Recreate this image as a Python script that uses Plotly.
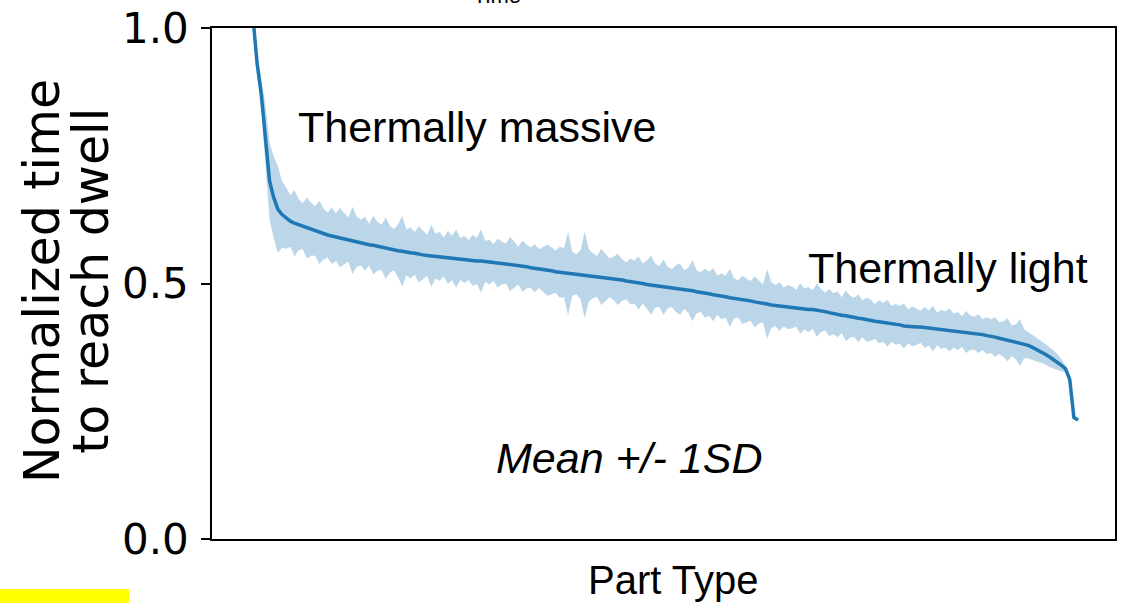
import plotly.graph_objects as go

# ---- data ----
mean_vals = [
    1.02, 0.93, 0.87, 0.79, 0.70, 0.668, 0.645, 0.635, 0.628, 0.622,
    0.618, 0.615, 0.612, 0.609, 0.606, 0.603, 0.600, 0.597, 0.595, 0.593,
    0.591, 0.590, 0.588, 0.586, 0.584, 0.582, 0.580, 0.578, 0.576, 0.575,
    0.573, 0.571, 0.569, 0.567, 0.566, 0.564, 0.563, 0.561, 0.560, 0.559,
    0.557, 0.556, 0.555, 0.554, 0.554, 0.553, 0.552, 0.551, 0.550, 0.549,
    0.548, 0.547, 0.546, 0.545, 0.544, 0.544, 0.543, 0.542, 0.541, 0.540,
    0.540, 0.539, 0.538, 0.537, 0.535, 0.534, 0.533, 0.531, 0.530, 0.529,
    0.527, 0.526, 0.525, 0.523, 0.522, 0.521, 0.520, 0.519, 0.518, 0.517,
    0.517, 0.516, 0.515, 0.514, 0.513, 0.512, 0.511, 0.510, 0.508, 0.507,
    0.505, 0.504, 0.503, 0.501, 0.500, 0.498, 0.497, 0.496, 0.494, 0.493,
    0.492, 0.491, 0.490, 0.489, 0.488, 0.487, 0.486, 0.484, 0.483, 0.481,
    0.480, 0.478, 0.477, 0.475, 0.474, 0.472, 0.471, 0.470, 0.468, 0.467,
    0.466, 0.464, 0.463, 0.461, 0.460, 0.458, 0.457, 0.455, 0.454, 0.454,
    0.453, 0.452, 0.451, 0.450, 0.449, 0.449, 0.448, 0.447, 0.445, 0.443,
    0.441, 0.440, 0.438, 0.437, 0.435, 0.434, 0.432, 0.431, 0.429, 0.428,
    0.426, 0.425, 0.424, 0.422, 0.421, 0.420, 0.419, 0.417, 0.416, 0.416,
    0.415, 0.415, 0.414, 0.413, 0.412, 0.411, 0.410, 0.410, 0.409, 0.408,
    0.407, 0.406, 0.405, 0.404, 0.403, 0.402, 0.400, 0.398, 0.397, 0.395,
    0.393, 0.391, 0.390, 0.388, 0.386, 0.384, 0.382, 0.379, 0.375, 0.371,
    0.366, 0.362, 0.357, 0.352, 0.346, 0.340, 0.333, 0.312, 0.238, 0.233,
]

sd_vals = [
    0.020, 0.020, 0.030, 0.060, 0.075, 0.080, 0.085, 0.065, 0.060, 0.050,
    0.065, 0.050, 0.045, 0.060, 0.052, 0.048, 0.062, 0.050, 0.044, 0.055,
    0.047, 0.058, 0.050, 0.043, 0.066, 0.049, 0.045, 0.053, 0.041, 0.057,
    0.048, 0.044, 0.060, 0.046, 0.040, 0.052, 0.069, 0.045, 0.050, 0.042,
    0.055, 0.047, 0.040, 0.061, 0.044, 0.048, 0.038, 0.052, 0.043, 0.057,
    0.041, 0.046, 0.039, 0.050, 0.045, 0.062, 0.040, 0.044, 0.036, 0.048,
    0.042, 0.039, 0.053, 0.045, 0.037, 0.050, 0.043, 0.040, 0.047, 0.038,
    0.044, 0.050, 0.046, 0.041, 0.050, 0.048, 0.082, 0.043, 0.039, 0.048,
    0.085, 0.051, 0.044, 0.040, 0.055, 0.046, 0.038, 0.043, 0.050, 0.041,
    0.036, 0.045, 0.042, 0.052, 0.039, 0.047, 0.058, 0.043, 0.040, 0.054,
    0.041, 0.037, 0.046, 0.050, 0.038, 0.044, 0.060, 0.042, 0.039, 0.048,
    0.043, 0.052, 0.038, 0.045, 0.041, 0.057, 0.040, 0.036, 0.047, 0.043,
    0.039, 0.050, 0.042, 0.037, 0.068, 0.045, 0.040, 0.048, 0.038, 0.043,
    0.041, 0.036, 0.049, 0.040, 0.044, 0.038, 0.052, 0.042, 0.037, 0.046,
    0.040, 0.045, 0.035, 0.050, 0.041, 0.038, 0.047, 0.036, 0.043, 0.040,
    0.034, 0.042, 0.038, 0.046, 0.035, 0.040, 0.037, 0.044, 0.033, 0.039,
    0.036, 0.031, 0.040, 0.034, 0.045, 0.032, 0.038, 0.035, 0.042, 0.033,
    0.037, 0.030, 0.041, 0.034, 0.032, 0.038, 0.030, 0.036, 0.033, 0.039,
    0.031, 0.035, 0.042, 0.030, 0.034, 0.046, 0.028, 0.026, 0.025, 0.023,
    0.022, 0.020, 0.020, 0.018, 0.016, 0.012, 0.006, 0.004, 0.002, 0.002,
]

part_index = list(range(len(mean_vals)))
y_ticks = [0.0, 0.5, 1.0]
y_tick_text = ["0.0", "0.5", "1.0"]

upper = [m + s for m, s in zip(mean_vals, sd_vals)]
lower = [m - s for m, s in zip(mean_vals, sd_vals)]

C0 = "#1f77b4"
BAND = "rgba(31,119,180,0.3)"
ARIAL = "Liberation Sans, Arial, sans-serif"
DEJAVU = "DejaVu Sans, sans-serif"

fig = go.Figure()
fig.add_trace(go.Scatter(x=part_index, y=upper, mode="lines",
                         line=dict(width=0, color=BAND), showlegend=False,
                         hoverinfo="skip"))
fig.add_trace(go.Scatter(x=part_index, y=lower, mode="lines",
                         line=dict(width=0, color=BAND), fill="tonexty",
                         fillcolor=BAND, showlegend=False, hoverinfo="skip"))
fig.add_trace(go.Scatter(x=part_index, y=mean_vals, mode="lines",
                         line=dict(width=3.5, color=C0), showlegend=False))

n = len(mean_vals) - 1
fig.update_xaxes(range=[-0.0497 * n, 1.0448 * n], showticklabels=False,
                 ticks="", showgrid=False, zeroline=False, automargin=False,
                 showline=True, linecolor="black", linewidth=1.5, mirror=True)
fig.update_yaxes(range=[0, 1], tickvals=y_ticks, ticktext=y_tick_text,
                 ticks="outside", ticklen=9, tickwidth=1.5, tickcolor="black",
                 tickfont=dict(family=DEJAVU, size=42, color="black"),
                 ticklabelstandoff=4, automargin=False,
                 showgrid=False, zeroline=False,
                 showline=True, linecolor="black", linewidth=1.5, mirror=True)

annotations = [
    dict(text="Normalized time", x=-0.187, y=0.505, textangle=-90,
         font=dict(family=DEJAVU, size=49, color="black")),
    dict(text="to reach dwell", x=-0.133, y=0.505, textangle=-90,
         font=dict(family=DEJAVU, size=49, color="black")),
    dict(text="Thermally massive", x=0.294, y=0.806,
         font=dict(family=ARIAL, size=43, color="black")),
    dict(text="Thermally light", x=0.815, y=0.530,
         font=dict(family=ARIAL, size=43, color="black")),
    dict(text="<i>Mean +/- 1SD</i>", x=0.462, y=0.159,
         font=dict(family=ARIAL, size=43, color="black")),
    dict(text="Part Type", x=0.510, y=-0.080,
         font=dict(family=ARIAL, size=40, color="black")),
    dict(text="Time", x=0.3156, y=1.035, yanchor="bottom",
         font=dict(family=ARIAL, size=22, color="black")),
]
for a in annotations:
    a.setdefault("xanchor", "center")
    a.setdefault("yanchor", "middle")
    a.update(xref="paper", yref="paper", showarrow=False)
fig.update_layout(annotations=annotations)

fig.add_shape(type="rect", xref="paper", yref="paper",
              x0=-0.2348, x1=-0.0919, y0=-0.16, y1=-0.0978,
              fillcolor="#ffff00", line=dict(width=0), layer="above")

fig.update_layout(width=1123, height=603,
                  margin=dict(l=212, r=8, t=28, b=64, autoexpand=False),
                  paper_bgcolor="white", plot_bgcolor="white")

fig.write_html("out.html", config={"displayModeBar": False},
               post_script="document.body.style.margin='0';"
                           "document.body.style.overflow='hidden';")
